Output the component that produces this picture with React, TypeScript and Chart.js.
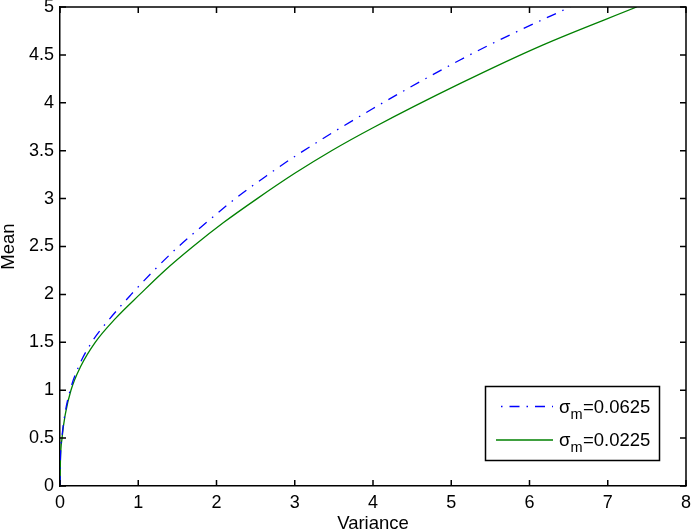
import React, { useEffect, useRef } from 'react';
import { Chart, registerables } from 'chart.js';

Chart.register(...registerables);

// ---- data ----
const blueVariance = [0, 0.004, 0.024, 0.063, 0.13, 0.24, 0.405, 0.64, 0.91, 1.2, 1.515, 1.87, 2.24, 2.66, 3.0, 4.0, 5.112, 5.78, 6.52];
const blueMean = [0, 0.25, 0.5, 0.75, 1.0, 1.25, 1.5, 1.75, 2.0, 2.25, 2.5, 2.75, 3.0, 3.25, 3.44, 3.94, 4.447, 4.72, 5.0];

const greenVariance = [0, 0.005, 0.026, 0.068, 0.14, 0.265, 0.45, 0.71, 1.02, 1.34, 1.7, 2.09, 2.52, 3.0, 3.47, 4.0, 5.11, 6.16, 7.37];
const greenMean = [0, 0.25, 0.5, 0.75, 1.0, 1.25, 1.5, 1.75, 2.0, 2.25, 2.5, 2.75, 3.0, 3.264, 3.5, 3.74, 4.2, 4.6, 5.0];

const xTicks = [0, 1, 2, 3, 4, 5, 6, 7, 8];
const yTicks = [0, 0.5, 1, 1.5, 2, 2.5, 3, 3.5, 4, 4.5, 5];

const seriesValues = ['0.0625', '0.0225'];
const seriesColors = ['#0000ff', '#008000'];
const seriesDashes: number[][] = [[10, 7, 1.5, 7], []];

const xTitle = 'Variance';
const yTitle = 'Mean';

const FONT = '"Liberation Sans", Arial, Helvetica, sans-serif';

const framePlugin = {
  id: 'frameTicks',
  afterDraw(chart: any) {
    const { ctx, chartArea, scales } = chart;
    const { left, right, top, bottom } = chartArea;
    const xs = scales.x;
    const ys = scales.y;
    ctx.save();
    ctx.strokeStyle = '#000';
    ctx.lineWidth = 1.5;
    ctx.beginPath();
    ctx.moveTo(left, top);
    ctx.lineTo(right, top);
    ctx.lineTo(right, bottom);
    ctx.stroke();
    ctx.beginPath();
    for (const v of xTicks) {
      const px = xs.getPixelForValue(v);
      ctx.moveTo(px, bottom);
      ctx.lineTo(px, bottom - 6);
      ctx.moveTo(px, top);
      ctx.lineTo(px, top + 6);
    }
    for (const v of yTicks) {
      const py = ys.getPixelForValue(v);
      ctx.moveTo(left, py);
      ctx.lineTo(left + 6, py);
      ctx.moveTo(right, py);
      ctx.lineTo(right - 6, py);
    }
    ctx.stroke();

    // legend box
    const lx = 485.5, ly = 386.5, lw = 174, lh = 74;
    ctx.fillStyle = '#fff';
    ctx.fillRect(lx, ly, lw, lh);
    ctx.lineWidth = 1.5;
    ctx.strokeStyle = '#000';
    ctx.strokeRect(lx, ly, lw, lh);
    for (let i = 0; i < seriesValues.length; i++) {
      const yLine = 406.5 + i * 33.5;
      ctx.save();
      ctx.strokeStyle = seriesColors[i];
      ctx.lineWidth = 1.4;
      ctx.setLineDash(seriesDashes[i]);
      ctx.lineDashOffset = 12;
      ctx.beginPath();
      ctx.moveTo(496, yLine);
      ctx.lineTo(553, yLine);
      ctx.stroke();
      ctx.restore();
      const base = 413.3 + i * 33;
      ctx.fillStyle = '#000';
      ctx.textBaseline = 'alphabetic';
      ctx.textAlign = 'left';
      ctx.font = `18.5px ${FONT}`;
      let tx = 559;
      ctx.fillText('σ', tx, base);
      tx += ctx.measureText('σ').width;
      ctx.font = `14.5px ${FONT}`;
      ctx.fillText('m', tx, base + 6);
      tx += ctx.measureText('m').width + 0.5;
      ctx.font = `18.5px ${FONT}`;
      ctx.fillText('=' + seriesValues[i], tx, base);
    }
    ctx.restore();
  },
};

export default function App() {
  const ref = useRef<HTMLCanvasElement | null>(null);
  useEffect(() => {
    document.body.style.margin = '0';
    const canvas = ref.current;
    if (!canvas) return;
    const chart = new Chart(canvas, {
      type: 'line',
      data: {
        datasets: [
          {
            label: 'σm=' + seriesValues[0],
            data: blueVariance.map((x, i) => ({ x, y: blueMean[i] })),
            borderColor: seriesColors[0],
            borderWidth: 1.3,
            borderDash: seriesDashes[0],
            pointRadius: 0,
            fill: false,
            cubicInterpolationMode: 'monotone',
          },
          {
            label: 'σm=' + seriesValues[1],
            data: greenVariance.map((x, i) => ({ x, y: greenMean[i] })),
            borderColor: seriesColors[1],
            borderWidth: 1.3,
            pointRadius: 0,
            fill: false,
            cubicInterpolationMode: 'monotone',
          },
        ],
      },
      options: {
        animation: false,
        responsive: false,
        maintainAspectRatio: false,
        devicePixelRatio: 1,
        layout: { padding: { top: 7, right: 5, left: 0, bottom: 0 } },
        plugins: { legend: { display: false }, tooltip: { enabled: false } },
        scales: {
          x: {
            type: 'linear',
            min: 0,
            max: 8,
            afterBuildTicks: (s: any) => {
              s.ticks = xTicks.map((v) => ({ value: v }));
            },
            ticks: {
              color: '#000',
              font: { family: FONT, size: 18 },
              padding: 6,
              maxRotation: 0,
              callback: (v: any) => String(v),
            },
            grid: { display: false, drawTicks: false, tickLength: 0 },
            border: { display: true, color: '#000', width: 1.5 },
            title: {
              display: true,
              text: xTitle,
              color: '#000',
              font: { family: FONT, size: 18.5, lineHeight: 0.84 },
              padding: 0,
            },
            afterFit: (s: any) => {
              s.height = 46;
              s.paddingLeft = 0;
              s.paddingRight = 0;
            },
          },
          y: {
            type: 'linear',
            min: 0,
            max: 5,
            afterBuildTicks: (s: any) => {
              s.ticks = yTicks.map((v) => ({ value: v }));
            },
            ticks: {
              color: '#000',
              font: { family: FONT, size: 18 },
              padding: 6,
              callback: (v: any) => String(v),
            },
            grid: { display: false, drawTicks: false, tickLength: 0 },
            border: { display: true, color: '#000', width: 1.5 },
            title: {
              display: true,
              text: yTitle,
              color: '#000',
              font: { family: FONT, size: 18.5, lineHeight: 1 },
              padding: 0,
            },
            afterFit: (s: any) => {
              s.width = 60;
              s.paddingTop = 0;
              s.paddingBottom = 0;
            },
          },
        },
      },
      plugins: [framePlugin],
    } as any);
    return () => chart.destroy();
  }, []);
  return <canvas ref={ref} width={691} height={532} style={{ display: 'block' }} />;
}
